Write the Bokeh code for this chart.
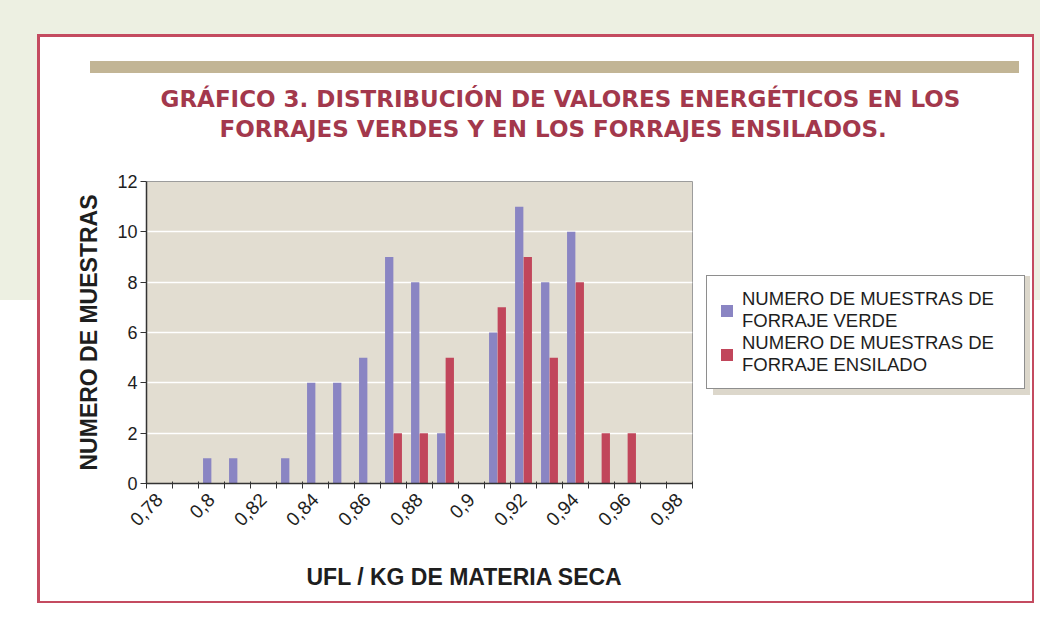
from math import pi
from bokeh.plotting import figure
from bokeh.models import (ColumnDataSource, Range1d, FixedTicker, LinearAxis, Title,
                          Legend, LegendItem, CustomJSTickFormatter)
from bokeh.transform import dodge
from bokeh.embed import file_html
from bokeh.resources import INLINE

# ---------------- data ----------------
ufl = [0.78, 0.79, 0.80, 0.81, 0.82, 0.83, 0.84, 0.85, 0.86, 0.87, 0.88,
       0.89, 0.90, 0.91, 0.92, 0.93, 0.94, 0.95, 0.96, 0.97, 0.98]
muestras_verde = [0, 0, 1, 1, 0, 1, 4, 4, 5, 9, 8, 2, 0, 6, 11, 8, 10, 0, 0, 0, 0]
muestras_ensilado = [0, 0, 0, 0, 0, 0, 0, 0, 0, 2, 2, 5, 0, 7, 9, 5, 8, 2, 2, 0, 0]
x_tick_values = [0.78, 0.80, 0.82, 0.84, 0.86, 0.88, 0.90, 0.92, 0.94, 0.96, 0.98]
x_tick_labels = ["0,78", "0,8", "0,82", "0,84", "0,86", "0,88", "0,9", "0,92", "0,94", "0,96", "0,98"]
y_tick_values = [0, 2, 4, 6, 8, 10, 12]
title_lines = ["GRÁFICO 3.  DISTRIBUCIÓN DE VALORES ENERGÉTICOS EN LOS",
               "FORRAJES VERDES Y EN LOS FORRAJES ENSILADOS."]
y_title = "NUMERO DE MUESTRAS"
x_title = "UFL / KG DE MATERIA SECA"
legend_labels = ["NUMERO DE MUESTRAS DE\nFORRAJE VERDE",
                 "NUMERO DE MUESTRAS DE\nFORRAJE ENSILADO"]

# ---------------- style ----------------
BLUE = "#8a85c3"
RED = "#c1465b"
PLOT_BG = "#e2ddd1"
CARD_BORDER = "#c44b60"
TITLE_C = "#a3384c"
BAR_BEIGE = "#c2b595"
GREEN = "#edf0e2"
SHADOW = "#dcd7cb"
TXT = "#1e1e1e"
FONT = "Liberation Sans"

W, H = 1040, 628
FL, FR, FT, FB = 146, 692, 181, 483

step = 0.01
half = step / 2
bar_w = 0.0032

src = ColumnDataSource(dict(ufl=ufl, verde=muestras_verde, ensilado=muestras_ensilado))

p = figure(frame_width=FR - FL, frame_height=FB - FT,
           x_range=Range1d(ufl[0] - half, ufl[-1] + half),
           y_range=Range1d(0, 12),
           output_backend="svg", toolbar_location=None,
           x_axis_type=None,
           min_border_left=FL, min_border_right=W - FR,
           min_border_top=FT, min_border_bottom=H - FB)
p.border_fill_color = None
p.background_fill_color = PLOT_BG
p.outline_line_color = "#9c9c9c"
p.outline_line_width = 1

# page decoration (card with red border, beige rule, legend shadow) as CSS layers
def rect_layer(color, x, y, w, h):
    return f"linear-gradient({color}, {color}) {x}px {y}px / {w}px {h}px no-repeat"

layers = [
    rect_layer(SHADOW, 713, 276, 317, 119),
    rect_layer(BAR_BEIGE, 90, 61, 929, 12),
    rect_layer("#ffffff", 39.5, 36.5, 992, 564),
    rect_layer(CARD_BORDER, 37, 34, 997, 569),
    rect_layer(GREEN, 0, 0, W, 300),
]
p.styles = {"background": ", ".join(layers) + ", #ffffff"}

# bars
r_verde = p.vbar(x=dodge("ufl", -0.00165, range=p.x_range), top="verde", width=bar_w,
                 source=src, fill_color=BLUE, line_color=None)
r_ens = p.vbar(x=dodge("ufl", 0.00165, range=p.x_range), top="ensilado", width=bar_w,
               source=src, fill_color=RED, line_color=None)

# grid
p.ygrid.ticker = FixedTicker(ticks=y_tick_values)
p.ygrid.grid_line_color = "white"
p.ygrid.grid_line_width = 1.5
p.xgrid.grid_line_color = None

# y axis
ya = p.yaxis[0]
ya.ticker = FixedTicker(ticks=y_tick_values)
ya.axis_line_color = "#333333"
ya.axis_line_width = 1.5
ya.major_tick_line_color = "#333333"
ya.major_tick_out = 6
ya.major_tick_in = 0
ya.minor_tick_line_color = None
ya.major_label_standoff = 3
ya.major_label_text_font = FONT
ya.major_label_text_font_size = "18px"
ya.major_label_text_color = TXT
ya.axis_label = y_title
ya.axis_label_text_font = FONT
ya.axis_label_text_font_style = "bold"
ya.axis_label_text_font_size = "23px"
ya.axis_label_text_color = TXT
ya.axis_label_standoff = 12

# x axis: ticks at category boundaries
bounds = [u - half for u in ufl] + [ufl[-1] + half]
xa1 = LinearAxis(ticker=FixedTicker(ticks=bounds),
                 formatter=CustomJSTickFormatter(code="return ''"))
xa1.axis_line_color = "#333333"
xa1.axis_line_width = 1.5
xa1.major_tick_line_color = "#333333"
xa1.major_tick_out = 5
xa1.major_tick_in = 2
xa1.minor_tick_line_color = None
xa1.major_label_standoff = 0
p.add_layout(xa1, "below")

# x axis: labels at category centres
xa2 = LinearAxis(ticker=FixedTicker(ticks=x_tick_values),
                 formatter=CustomJSTickFormatter(
                     args=dict(tick_vals=x_tick_values, tick_labs=x_tick_labels),
                     code="""
const i = tick_vals.findIndex(t => Math.abs(t - tick) < 1e-7);
return i >= 0 ? tick_labs[i] : "";
"""))
xa2.axis_line_color = None
xa2.major_tick_line_color = None
xa2.minor_tick_line_color = None
xa2.major_label_orientation = pi / 4
xa2.major_label_standoff = 2
xa2.major_label_text_font = FONT
xa2.major_label_text_font_size = "19px"
xa2.major_label_text_color = TXT
p.add_layout(xa2, "below")

# x axis title (placed right of centre, as in the original)
xt = Title(text=x_title, align="left", offset=160, standoff=54,
           text_font=FONT, text_font_style="bold", text_font_size="23px",
           text_color=TXT)
p.add_layout(xt, "below")

# invisible spacer between the frame and the chart title
# (a single white tick on the white card at the frame's left edge)
spacer = LinearAxis(ticker=FixedTicker(ticks=[bounds[0]]),
                    formatter=CustomJSTickFormatter(code="return ''"))
spacer.axis_line_color = None
spacer.major_tick_line_color = "#ffffff"
spacer.minor_tick_line_color = None
spacer.major_tick_out = 40
spacer.major_tick_in = 0
spacer.major_label_standoff = 0
spacer.major_label_text_color = None
p.add_layout(spacer, "above")

# chart title, two lines
t2 = Title(text=title_lines[1], align="left", offset=73, standoff=0,
           text_font="DejaVu Sans", text_font_style="bold", text_font_size="23px",
           text_color=TITLE_C)
t1 = Title(text=title_lines[0], align="left", offset=14, standoff=3,
           text_font="DejaVu Sans", text_font_style="bold", text_font_size="23px",
           text_color=TITLE_C)
p.add_layout(t2, "above")
p.add_layout(t1, "above")

# legend in the right panel
legend = Legend(items=[LegendItem(label=legend_labels[0], renderers=[r_verde]),
                       LegendItem(label=legend_labels[1], renderers=[r_ens])],
                location="left")
legend.margin = 14
legend.padding = 12
legend.spacing = 0
legend.glyph_width = 15
legend.glyph_height = 15
legend.label_standoff = 8
legend.label_width = 270
legend.label_text_font = FONT
legend.label_text_font_size = "18.5px"
legend.label_text_color = TXT
legend.label_text_line_height = 1.3
legend.border_line_color = "#1e1e1e"
legend.border_line_width = 1.5
legend.background_fill_color = "white"
legend.background_fill_alpha = 1
p.add_layout(legend, "right")

open("out.html", "w").write(file_html(p, INLINE))
